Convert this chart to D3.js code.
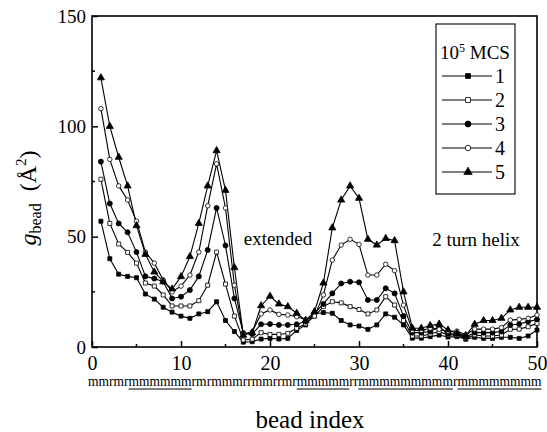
<!DOCTYPE html>
<html>
<head>
<meta charset="utf-8">
<script src="https://cdn.jsdelivr.net/npm/d3@7"></script>
<style>
  body { margin: 0; background: #fff; }
  svg { display: block; }
  text { font-family: "Liberation Serif", "DejaVu Serif", serif; fill: #000; }
</style>
</head>
<body>
<div id="chart"></div>
<script>
// g_bead per bead, five snapshots (units of 10^5 MCS)

let beads = d3.range(1, 51);
let seriesNames = ["1", "2", "3", "4", "5"];

let mcs1 = [57, 40, 33, 32, 31.4, 24, 21.7, 18, 15.8, 14, 13, 15, 16, 20.5, 12, 7, 2.2, 2.4, 3.6, 3.9,
            3.6, 3.9, 7.5, 10, 15, 15.6, 15.3, 12, 10, 9.5, 8, 10, 15, 13.5, 10, 4, 4, 4.7, 5.4, 4.5,
            4.7, 3.5, 4.4, 3.9, 3.9, 4.4, 4.4, 3.9, 5, 7.7];
let mcs2 = [76, 56, 46.7, 42.9, 38, 29, 27.6, 23.6, 18.6, 18.6, 18.6, 21, 28, 43, 28.5, 14, 3.2, 3.5, 6.5, 5.7,
            5.7, 6.2, 8.5, 10.5, 14, 18.3, 20.5, 20, 18.3, 17, 15, 16.8, 22.8, 19, 12, 5, 5, 5.9, 7, 5.5,
            5.5, 4, 5.5, 5, 5, 5.4, 8, 8.1, 9.2, 10.7];
let mcs3 = [84, 65, 56, 52, 43, 32, 31, 29.6, 22, 22.8, 25.8, 32, 44, 63, 46, 22, 6.3, 5.9, 10.3, 10.4,
            10, 10, 10.3, 11.5, 15.3, 19.5, 24.3, 28.8, 29.6, 29.3, 21.3, 21.3, 26.6, 24.3, 14, 6.5, 6.5, 7, 9.2, 6,
            6, 4.5, 6.6, 6.5, 6.5, 7, 10, 10.4, 11.5, 12.5];
let mcs4 = [108, 85, 73, 66.6, 57, 43, 38, 30.4, 25, 27.6, 32.6, 43, 64, 83, 63, 28, 6, 6.8, 15, 16.8,
            14.8, 14.5, 13.7, 12.5, 14, 23.6, 39.4, 46.2, 48.8, 46.5, 32.6, 32.6, 37.5, 34.6, 19, 7.5, 7.5, 8.5, 8, 7,
            7.2, 5.5, 8.1, 8.1, 8.1, 8.8, 12.2, 12.5, 13, 14.5];
let mcs5 = [122, 100, 86, 73, 55, 42, 34, 29.6, 26.3, 31.9, 41, 56, 73, 89, 71, 36, 5.4, 6.5, 18.7, 23,
            19.5, 18.3, 15.3, 12, 16, 29, 54, 66.6, 73, 67.4, 48.8, 46.2, 49.2, 48.2, 25, 8.5, 8.5, 9.7, 10.4, 7.7,
            6.2, 5.2, 10.3, 12, 12, 13, 16.8, 18, 18, 18];

let xTicks = [0, 10, 20, 30, 40, 50];
let xMinor = [5, 15, 25, 35, 45];
let yTicks = [0, 50, 100, 150];
let yMinor = [25, 75, 125];

// residue sequence under the axis; underlined parts are helices
let seqParts = [
  {t: "mmrmr", u: false}, {t: "mmmmmm", u: true}, {t: "rmrmmmrrmmrrmr", u: false},
  {t: "mmmmm", u: true}, {t: "rr", u: false}, {t: "mmmmmmmmm", u: true},
  {t: "r", u: false}, {t: "mmmmmmmm", u: true}
];

let series = [mcs1, mcs2, mcs3, mcs4, mcs5];

////////////////////////////////////////////////////////////////////////

let width = 547, height = 432;
let margin = {left: 92, right: 10, top: 16, bottom: 85};

let xScale = d3.scaleLinear().domain([0, 50]).range([margin.left, width - margin.right]);
let yScale = d3.scaleLinear().domain([0, 150]).range([height - margin.bottom, margin.top]);

// marker per series: symbol type and filled or not
let markers = [
  {type: d3.symbolSquare, size: 16, fill: "#000"},
  {type: d3.symbolSquare, size: 16, fill: "#fff"},
  {type: d3.symbolCircle, size: 20, fill: "#000"},
  {type: d3.symbolCircle, size: 16, fill: "#fff"},
  {type: d3.symbolTriangle, size: 22, fill: "#000"}
];

let svg = d3.select("#chart").append("svg")
    .attr("width", width)
    .attr("height", height);

// frame
svg.append("rect")
  .attr("x", xScale(0))
  .attr("y", yScale(150))
  .attr("width", xScale(50) - xScale(0))
  .attr("height", yScale(0) - yScale(150))
  .attr("fill", "none")
  .attr("stroke", "#000")
  .attr("stroke-width", 1.6);

let xAxis = svg.append("g")
  .attr("transform", "translate(0," + yScale(0) + ")")
  .call(d3.axisBottom(xScale).tickValues(xTicks).tickSize(-6).tickPadding(9).tickFormat(d3.format("d")));
xAxis.select(".domain").remove();
xAxis.selectAll("line").attr("stroke-width", 1.5);
xAxis.selectAll("text").attr("font-size", 20).attr("font-family", "Liberation Serif");

svg.append("g").selectAll("line")
  .data(xMinor).enter().append("line")
  .attr("x1", d => xScale(d)).attr("x2", d => xScale(d))
  .attr("y1", yScale(0)).attr("y2", yScale(0) - 3)
  .attr("stroke", "#000").attr("stroke-width", 1.5);

let yAxis = svg.append("g")
  .attr("transform", "translate(" + xScale(0) + ",0)")
  .call(d3.axisLeft(yScale).tickValues(yTicks).tickSize(-6).tickPadding(6).tickFormat(d3.format("d")));
yAxis.select(".domain").remove();
yAxis.selectAll("line").attr("stroke-width", 1.5);
yAxis.selectAll("text").attr("font-size", 19).attr("font-family", "Liberation Serif");

svg.append("g").selectAll("line")
  .data(yMinor).enter().append("line")
  .attr("x1", xScale(0)).attr("x2", xScale(0) + 3)
  .attr("y1", d => yScale(d)).attr("y2", d => yScale(d))
  .attr("stroke", "#000").attr("stroke-width", 1.5);

// lines and markers
let line = d3.line()
  .x((d, i) => xScale(beads[i]))
  .y(d => yScale(d));

series.forEach(function(vals, k) {
  svg.append("path")
    .attr("d", line(vals))
    .attr("fill", "none")
    .attr("stroke", "#000")
    .attr("stroke-width", 1.1);
});

series.forEach(function(vals, k) {
  let m = markers[k];
  svg.append("g").selectAll("path")
    .data(vals).enter().append("path")
    .attr("transform", (d, i) => "translate(" + xScale(beads[i]) + "," + yScale(d) + ")")
    .attr("d", d3.symbol().type(m.type).size(m.size))
    .attr("fill", m.fill)
    .attr("stroke", "#000")
    .attr("stroke-width", 0.8);
});

// legend
let legend = svg.append("g");
legend.append("rect")
  .attr("x", 436).attr("y", 24)
  .attr("width", 79).attr("height", 170)
  .attr("fill", "#fff").attr("stroke", "#000").attr("stroke-width", 1.1);

let title = legend.append("text")
  .attr("x", 475).attr("y", 59)
  .attr("text-anchor", "middle")
  .attr("font-size", 19);
title.append("tspan").text("10");
title.append("tspan").attr("dy", -7).attr("font-size", 12).text("5");
title.append("tspan").attr("dy", 7).text(" MCS");

let entries = legend.selectAll(".entry")
  .data(seriesNames).enter().append("g")
  .attr("class", "entry")
  .attr("transform", (d, i) => "translate(0," + (76 + i * 24) + ")");

entries.append("line")
  .attr("x1", 442).attr("x2", 492)
  .attr("stroke", "#000").attr("stroke-width", 1.1);
entries.append("path")
  .attr("transform", "translate(468,0)")
  .attr("d", (d, i) => d3.symbol().type(markers[i].type).size(markers[i].size + 8)())
  .attr("fill", (d, i) => markers[i].fill)
  .attr("stroke", "#000").attr("stroke-width", 0.8);
entries.append("text")
  .attr("x", 495).attr("y", 7)
  .attr("font-size", 20)
  .text(d => d);

// annotations
svg.append("text")
  .attr("x", 278).attr("y", 245)
  .attr("text-anchor", "middle")
  .attr("font-size", 19)
  .text("extended");
svg.append("text")
  .attr("x", 476).attr("y", 246)
  .attr("text-anchor", "middle")
  .attr("font-size", 19)
  .text("2 turn helix");

// sequence as one string, sized to span the axis; helix underlines drawn as lines
let seqText = seqParts.map(d => d.t).join("");
let seq = svg.append("text")
  .attr("x", 88).attr("y", 386)
  .attr("font-size", 15)
  .text(seqText);

let seqNode = seq.node();
let natural = seqNode.getComputedTextLength();
seq.attr("font-size", 15 * 454 / natural);

let pos = 0;
seqParts.forEach(function(p) {
  if (p.u) {
    let x1 = seqNode.getStartPositionOfChar(pos).x;
    let x2 = seqNode.getEndPositionOfChar(pos + p.t.length - 1).x;
    svg.append("line")
      .attr("x1", x1).attr("x2", x2)
      .attr("y1", 389).attr("y2", 389)
      .attr("stroke", "#000").attr("stroke-width", 1);
  }
  pos += p.t.length;
});

// axis titles
svg.append("text")
  .attr("x", 310).attr("y", 428)
  .attr("text-anchor", "middle")
  .attr("font-size", 25)
  .text("bead index");

let ylab = svg.append("text")
  .attr("transform", "translate(36,198) rotate(-90)")
  .attr("text-anchor", "middle")
  .attr("font-size", 24);
ylab.append("tspan").attr("font-style", "italic").text("g");
ylab.append("tspan").attr("dy", 5).attr("font-size", 16).text("bead");
ylab.append("tspan").attr("dy", -5).text("\u2002(\u00C5");
ylab.append("tspan").attr("dy", -10).attr("font-size", 15).text("2");
ylab.append("tspan").attr("dy", 10).text(")");
</script>
</body>
</html>
